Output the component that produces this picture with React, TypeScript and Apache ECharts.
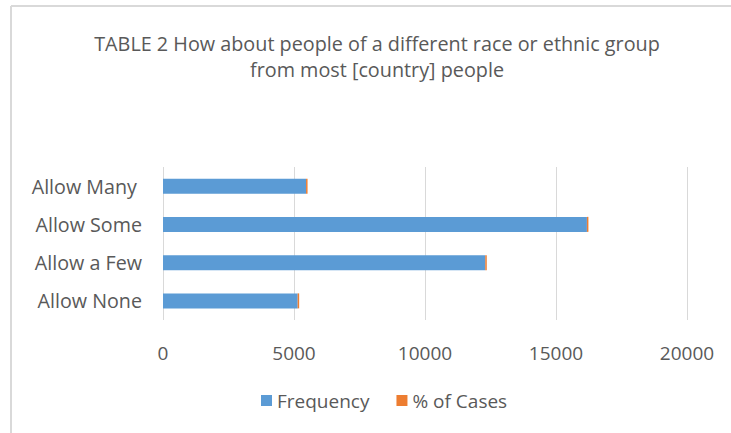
import React, { useEffect, useRef } from "react";
import * as echarts from "echarts";

// Responses, listed from the bottom row of the chart to the top row
const categories = ["Allow None", "Allow a Few", "Allow Some", "Allow Many "];
const frequency = [5140, 12300, 16180, 5460];
const percentOfCases = [13.2, 31.5, 41.4, 14.0];
const xTicks = { min: 0, max: 20000, interval: 5000 };

const TEXT = "#595959";
const GRID = "#d9d9d9";
const FONT = "'Open Sans', 'Noto Sans', sans-serif";

export default function App() {
  const ref = useRef<HTMLDivElement>(null);

  useEffect(() => {
    if (!ref.current) return;
    const chart = echarts.init(ref.current, null, { renderer: "svg" });
    chart.setOption({
      animation: false,
      backgroundColor: "#ffffff",
      title: {
        text: "TABLE 2 How about people of a different race or ethnic group\nfrom most [country] people",
        left: 377,
        top: 30,
        padding: 0,
        textAlign: "center",
        textStyle: {
          fontFamily: FONT,
          fontSize: 19.8,
          fontWeight: "normal",
          color: TEXT,
          lineHeight: 26,
        },
      },
      legend: {
        left: 256,
        top: 386,
        icon: "rect",
        itemWidth: 11,
        itemHeight: 11,
        itemGap: 27,
        textStyle: { fontFamily: FONT, fontSize: 19, color: TEXT },
        data: ["Frequency", "% of Cases"],
      },
      grid: { left: 163, right: 44, top: 167, bottom: 113, containLabel: false },
      xAxis: {
        type: "value",
        min: xTicks.min,
        max: xTicks.max,
        interval: xTicks.interval,
        axisLine: { show: false },
        axisTick: { show: false },
        splitLine: { show: true, lineStyle: { color: GRID, width: 1 } },
        axisLabel: {
          fontFamily: FONT,
          fontSize: 19,
          color: TEXT,
          margin: 23,
          formatter: (v: number) => String(v),
        },
      },
      yAxis: {
        type: "category",
        data: categories,
        axisLine: { show: false },
        axisTick: { show: false },
        axisLabel: { fontFamily: FONT, fontSize: 19.7, color: TEXT, margin: 21 },
      },
      series: [
        {
          name: "Frequency",
          type: "bar",
          stack: "total",
          data: frequency,
          barWidth: 15,
          itemStyle: { color: "#5b9bd5" },
        },
        {
          name: "% of Cases",
          type: "bar",
          stack: "total",
          data: percentOfCases,
          barWidth: 15,
          barMinHeight: 1.5,
          itemStyle: { color: "#ed7d31" },
        },
      ],
      graphic: [
        {
          type: "line",
          shape: { x1: 11, y1: 6, x2: 731, y2: 6 },
          style: { stroke: GRID, lineWidth: 2 },
        },
        {
          type: "line",
          shape: { x1: 11, y1: 6, x2: 11, y2: 433 },
          style: { stroke: GRID, lineWidth: 2 },
        },
      ],
    });
    return () => chart.dispose();
  }, []);

  return <div ref={ref} style={{ width: 731, height: 433, position: "absolute", left: 0, top: 0 }} />;
}
